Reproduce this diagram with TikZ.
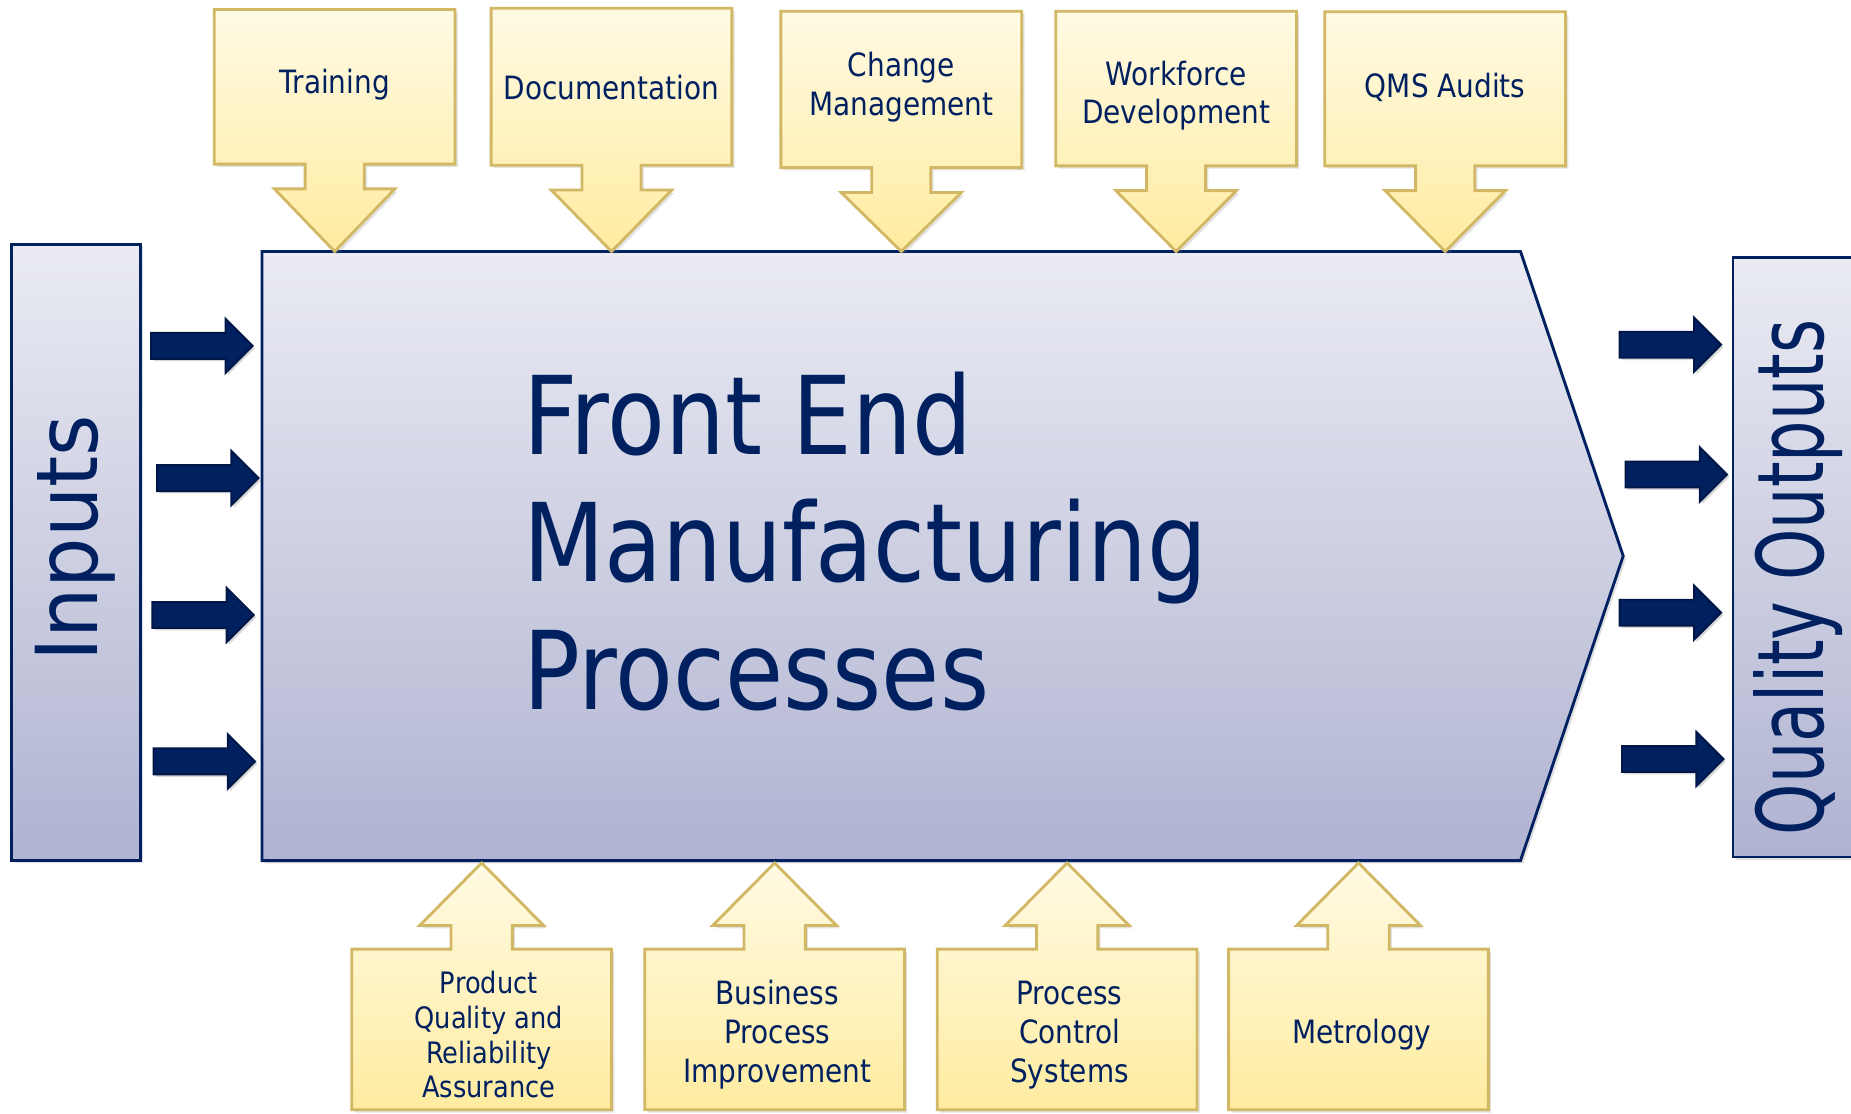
\documentclass[tikz,border=0pt]{standalone}
\usepackage{fontspec}
\setmainfont{DejaVu Sans}[FakeStretch=0.87]
\newfontfamily\inpfont{DejaVu Sans}[FakeStretch=0.93]
\newfontfamily\qofont{DejaVu Sans}[FakeStretch=0.71]
\usetikzlibrary{shadows}
\definecolor{navy}{RGB}{0,32,96}
\definecolor{navyedge}{RGB}{0,22,70}
\definecolor{bluetop}{RGB}{234,235,243}
\definecolor{bluebot}{RGB}{176,179,209}
\definecolor{creamtop}{RGB}{255,250,228}
\definecolor{creambot}{RGB}{255,236,160}
\definecolor{gold}{RGB}{210,184,100}
\tikzset{
  blueshape/.style={draw=navy, line width=1.2pt, top color=bluetop, bottom color=bluebot,
    drop shadow={shadow xshift=1.2pt, shadow yshift=-1.2pt, opacity=0.25}},
  callout/.style={draw=gold, line width=1.2pt, top color=creamtop, bottom color=creambot,
    line join=miter, drop shadow={shadow xshift=1.2pt, shadow yshift=-1.2pt, opacity=0.22}},
  blockarr/.style={fill=navy, draw=navyedge, line width=0.8pt,
    drop shadow={shadow xshift=1pt, shadow yshift=-1pt, opacity=0.3}},
  lbl/.style={text=navy, align=center, inner sep=0pt, font=\fontsize{13.6}{16.5}\selectfont},
  lblsmall/.style={text=navy, align=center, inner sep=0pt, font=\fontsize{12.5}{14.75}\selectfont},
  bigtxt/.style={text=navy, inner sep=0pt, anchor=base west, font=\fontsize{46}{54}\selectfont},
}
\newcommand\TopCall[6]{% name, cx, top, bottom, text y, text
  \pgfmathsetmacro\cxA{#2-102}\pgfmathsetmacro\cxB{#2+102}%
  \pgfmathsetmacro\csA{#2-25}\pgfmathsetmacro\csB{#2+25}%
  \pgfmathsetmacro\chA{#2-51}\pgfmathsetmacro\chB{#2+51}%
  \pgfmathsetmacro\chY{#4+21}%
  \path[callout] (\cxA,#3) -- (\cxB,#3) -- (\cxB,#4) -- (\csB,#4) -- (\csB,\chY) -- (\chB,\chY)
     -- (#2,213) -- (\chA,\chY) -- (\csA,\chY) -- (\csA,#4) -- (\cxA,#4) -- cycle;
  \node[lbl] (#1) at (#2,#5) {#6};
}
\newcommand\BotCall[5]{% name, cx, text x, text, style
  \pgfmathsetmacro\cxA{#2-110}\pgfmathsetmacro\cxB{#2+110}%
  \pgfmathsetmacro\csA{#2-26}\pgfmathsetmacro\csB{#2+26}%
  \pgfmathsetmacro\chA{#2-52.5}\pgfmathsetmacro\chB{#2+52.5}%
  \path[callout] (\cxA,940) -- (\cxB,940) -- (\cxB,804) -- (\csB,804) -- (\csB,784) -- (\chB,784)
     -- (#2,731) -- (\chA,784) -- (\csA,784) -- (\csA,804) -- (\cxA,804) -- cycle;
  \node[#5] (#1) at (#3,876.5) {#4};
}
\newcommand\BlockArr[2]{% left x, y
  \pgfmathsetmacro\bA{#1+63}\pgfmathsetmacro\bB{#1+86}%
  \pgfmathsetmacro\yA{#2-11}\pgfmathsetmacro\yB{#2+11}%
  \pgfmathsetmacro\yC{#2-23}\pgfmathsetmacro\yD{#2+23}%
  \path[blockarr] (#1,\yA) -- (\bA,\yA) -- (\bA,\yC) -- (\bB,#2) -- (\bA,\yD) -- (\bA,\yB) -- (#1,\yB) -- cycle;
}
\begin{document}
\begin{tikzpicture}[x=0.5pt,y=-0.5pt]
\useasboundingbox (0,0) rectangle (1568,943);
\fill[white] (0,0) rectangle (1568,943);

% Inputs box
\path[blueshape] (10,207) rectangle (119,729);
\node[text=navy, inner sep=0pt, rotate=90, anchor=base, font=\inpfont\fontsize{36.2}{40}\selectfont] (inputs) at (82.5,456) {Inputs};

% Quality outputs box
\path[blueshape] (1468,218) rectangle (1600,726);
\node[text=navy, inner sep=0pt, rotate=90, anchor=base, font=\qofont\fontsize{39}{44}\selectfont] (outputs) at (1545,489) {Quality Outputs};

% Main chevron
\path[blueshape] (222,213) -- (1288,213) -- (1375,471) -- (1288,729) -- (222,729) -- cycle;
\coordinate (tip) at (1375,471);
\node[bigtxt] (fe1) at (443,385) {Front End};
\node[bigtxt] (fe2) at (443,493) {Manufacturing};
\node[bigtxt] (fe3) at (443,601) {Processes};

% top callouts
\TopCall{training}{283.5}{8}{139}{72}{Training}
\TopCall{docs}{518}{7}{140}{74}{Documentation}
\TopCall{change}{763.5}{9.5}{142}{74}{Change\\Management}
\TopCall{workforce}{996.3}{9.5}{140.5}{81}{Workforce\\Development}
\TopCall{qms}{1224.2}{10}{140.5}{74}{QMS Audits}

% bottom callouts
\BotCall{pqra}{408}{414}{Product\\Quality and\\Reliability\\Assurance}{lblsmall}
\BotCall{bpi}{656.2}{658.5}{Business\\Process\\Improvement}{lbl}
\BotCall{pcs}{904}{906}{Process\\Control\\Systems}{lbl}
\BotCall{metro}{1150.8}{1153.5}{Metrology}{lbl}

% input arrows
\BlockArr{128}{293}
\BlockArr{133}{405}
\BlockArr{129}{521}
\BlockArr{130}{645}
% output arrows
\BlockArr{1372}{292}
\BlockArr{1377}{402}
\BlockArr{1372}{519}
\BlockArr{1374}{643}
\end{tikzpicture}
\end{document}
